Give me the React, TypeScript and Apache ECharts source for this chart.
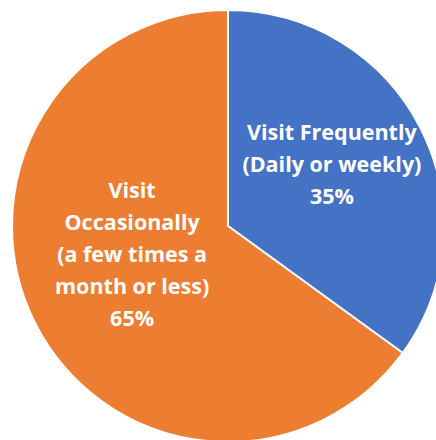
import React, { useEffect, useRef } from "react";
import * as echarts from "echarts";

const categories = [
  "Visit Frequently\n(Daily or weekly)",
  "Visit\nOccasionally\n(a few times a\nmonth or less)",
];
const values = [35, 65];
const colors = ["#4472C4", "#ED7D31"];
const labelOffsets = [
  [5, -12],
  [3, -23],
];

export default function App() {
  const ref = useRef<HTMLDivElement>(null);
  useEffect(() => {
    if (!ref.current) return;
    const chart = echarts.init(ref.current, null, { renderer: "svg" });
    chart.setOption({
      animation: false,
      backgroundColor: "#ffffff",
      series: [
        {
          type: "pie",
          center: [228, 226],
          radius: 216,
          startAngle: 90,
          clockwise: true,
          avoidLabelOverlap: false,
          itemStyle: { borderColor: "#ffffff", borderWidth: 2 },
          label: {
            show: true,
            position: "inside",
            color: "#ffffff",
            fontFamily: "Open Sans",
            fontWeight: "bold",
            fontSize: 21.5,
            lineHeight: 32,
            align: "center",
            formatter: (p: any) => `${p.name}\n${p.value}%`,
          },
          labelLine: { show: false },
          data: categories.map((c, i) => ({
            name: c,
            value: values[i],
            itemStyle: { color: colors[i] },
            label: { offset: labelOffsets[i] },
          })),
        },
      ],
    });
    return () => chart.dispose();
  }, []);
  return (
    <div
      ref={ref}
      style={{ position: "fixed", left: 0, top: 0, width: 436, height: 440 }}
    />
  );
}
